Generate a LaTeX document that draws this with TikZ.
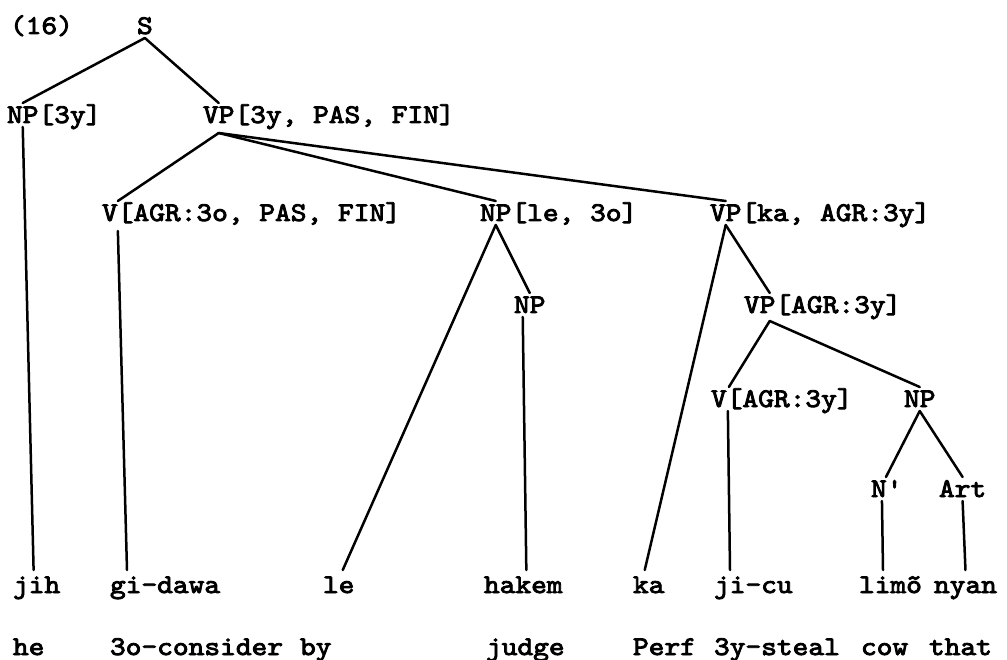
\documentclass[tikz,border=0pt]{standalone}
\usepackage{fontspec}
\newfontfamily\tw{lmmono10-regular.otf}[FakeBold=3.2,FakeStretch=1.11]
\usetikzlibrary{calc}
\begin{document}
\begin{tikzpicture}[x=1pt,y=-1pt,
  lbl/.style={font=\tw\fontsize{27}{32}\selectfont, inner sep=0pt, outer sep=0pt, anchor=base west},
  head/.style={lbl, text height=16pt, text depth=0pt, outer ysep=4pt},
  feat/.style={lbl},
  word/.style={lbl, text height=19pt, text depth=0pt, outer ysep=4pt},
  edge/.style={line width=2.5pt, line cap=round}]
\fill[white] (0,0) rectangle (1007,660);
\useasboundingbox (0,0) rectangle (1007,660);

% example number and root
\node[lbl] (num) at (10,34) {(16)};
\node[head] (s) at (137,34) {S};

% first level
\node[head] (np1) at (7,123) {NP};
\node[feat] (np1f) at (np1.base east) {[3y]};
\node[head] (vp1) at (203,123) {VP};
\node[feat] (vp1f) at (vp1.base east) {[3y, PAS, FIN]};

% second level
\node[head] (v1) at (102,221) {V};
\node[feat] (v1f) at (v1.base east) {[AGR:3o, PAS, FIN]};
\node[head] (np2) at (480,221) {NP};
\node[feat] (np2f) at (np2.base east) {[le, 3o]};
\node[head] (vp2) at (710,221) {VP};
\node[feat] (vp2f) at (vp2.base east) {[ka, AGR:3y]};

% third level
\node[head] (np3) at (514,313) {NP};
\node[head] (vp3) at (744,313) {VP};
\node[feat] (vp3f) at (vp3.base east) {[AGR:3y]};

% fourth level
\node[head] (v2) at (711,407) {V};
\node[feat] (v2f) at (v2.base east) {[AGR:3y]};
\node[head] (np4) at (904,407) {NP};

% fifth level
\node[head] (nbar) at (871,497) {N\textquotesingle};
\node[head] (art) at (939,497) {Art};

% words
\node[word] (w1) at (13,593) {jih};
\node[word] (w2) at (110,593) {gi-dawa};
\node[word] (w3) at (323,593) {le};
\node[word] (w4) at (484,593) {hakem};
\node[word] (w5) at (633,593) {ka};
\node[word] (w6) at (714,593) {ji-cu};
\node[word] (w7) at (859,593) {limõ};
\node[word] (w8) at (934,593) {nyan};

% glosses
\node[lbl] (g1) at (13,655) {he};
\node[lbl] (g2) at (110,655) {3o-consider};
\node[lbl] (g3) at (300,655) {by};
\node[lbl] (g4) at (486,655) {judge};
\node[lbl] (g5) at (633,655) {Perf};
\node[lbl] (g6) at (714,655) {3y-steal};
\node[lbl] (g7) at (861,655) {cow};
\node[lbl] (g8) at (929,655) {that};

% branches
\draw[edge] (s.south) -- (np1.north);
\draw[edge] (s.south) -- (vp1.north);
\draw[edge] (np1.south) -- ([xshift=-3pt]w1.north);
\draw[edge] ([yshift=-6pt]vp1.south) -- ([xshift=8pt]v1.north);
\draw[edge] ([yshift=-6pt]vp1.south) -- (np2.north);
\draw[edge] ([yshift=-6pt]vp1.south) -- (vp2.north);
\draw[edge] ([xshift=8pt,yshift=-6pt]v1.south) -- ([xshift=17pt]w2.north west);
\draw[edge] (np2.south) -- (np3.north);
\draw[edge] (np2.south) -- ([xshift=4pt]w3.north);
\draw[edge] ([xshift=-7pt]np3.south) -- ([xshift=3pt]w4.north);
\draw[edge] (vp2.south) -- ([xshift=10pt]vp3.north);
\draw[edge] (vp2.south) -- ([xshift=-4pt]w5.north);
\draw[edge] ([xshift=10pt,yshift=-4pt]vp3.south) -- ([xshift=10pt]v2.north);
\draw[edge] ([xshift=10pt,yshift=-4pt]vp3.south) -- (np4.north);
\draw[edge] ([xshift=9pt]v2.south) -- ([xshift=16pt]w6.north west);
\draw[edge] (np4.south) -- (nbar.north);
\draw[edge] (np4.south) -- (art.north);
\draw[edge] ([xshift=-4pt]nbar.south) -- ([xshift=24pt]w7.north west);
\draw[edge] (art.south) -- (w8.north);
\end{tikzpicture}
\end{document}
